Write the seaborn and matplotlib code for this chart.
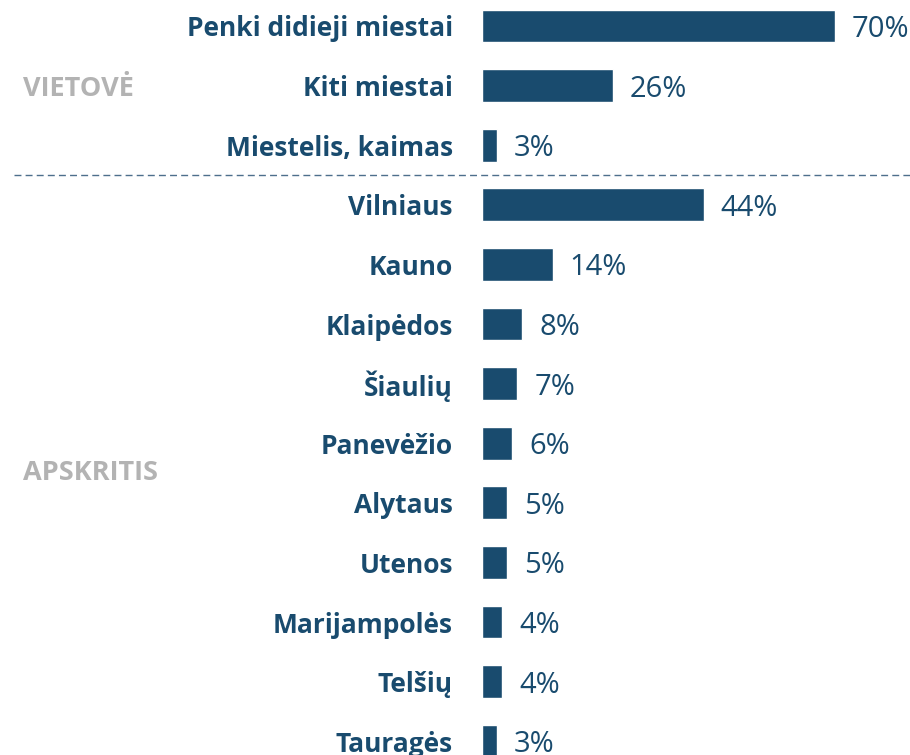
import matplotlib
matplotlib.use("Agg")
import matplotlib.pyplot as plt
import matplotlib.transforms as mtransforms
import seaborn as sns
import pandas as pd

# ---- data ----
kategorijos = ["Penki didieji miestai", "Kiti miestai", "Miestelis, kaimas",
               "Vilniaus", "Kauno", "Klaipėdos", "Šiaulių", "Panevėžio",
               "Alytaus", "Utenos", "Marijampolės", "Telšių", "Tauragės"]
reiksmes = [70, 26, 3, 44, 14, 8, 7, 6, 5, 5, 4, 4, 3]
grupes = ["VIETOVĖ", "APSKRITIS"]
grupiu_dydziai = [3, 10]

df = pd.DataFrame({"kategorija": kategorijos, "reiksme": reiksmes})

MELYNA = "#194b6e"
PILKA = "#b3b3b3"

sns.set_theme(style="white")
plt.rcParams["font.family"] = ["Open Sans", "DejaVu Sans"]

fig = plt.figure(figsize=(9.10, 7.55), dpi=100)
ax = fig.add_axes([482 / 910, 0, 428 / 910, 1])

sns.barplot(data=df, x="reiksme", y="kategorija", color=MELYNA,
            width=0.55, orient="h", ax=ax, saturation=1)

ax.set_xlim(0, 428 / 5.04)
ax.set_ylim(12.23, -0.436)
ax.set_xlabel("")
ax.set_ylabel("")
ax.set_xticks([])
for s in ax.spines.values():
    s.set_visible(False)
ax.tick_params(axis="y", length=0, pad=21)
for lbl in ax.get_yticklabels():
    lbl.set_fontweight("bold")
    lbl.set_color(MELYNA)
    lbl.set_fontsize(19)

# value labels
for i, v in enumerate(reiksmes):
    ax.text(v + 17 / 5.04, i, f"{v}%", va="center_baseline", ha="left",
            fontsize=21, color=MELYNA)

# separator between groups
ax.plot([-468 / 5.04, 428 / 5.04], [grupiu_dydziai[0] - 0.5] * 2,
        ls=(0, (5, 3)), lw=1, color="#4d6f8c", clip_on=False)

# group titles
trans = mtransforms.blended_transform_factory(fig.transFigure, ax.transData)
tit_y = [1, 7.45]
for g, y in zip(grupes, tit_y):
    fig.text(23 / 910, y, g, fontsize=19.5, fontweight="bold", color=PILKA,
             va="center_baseline", ha="left", transform=trans)

fig.savefig("out.png", dpi=100)
